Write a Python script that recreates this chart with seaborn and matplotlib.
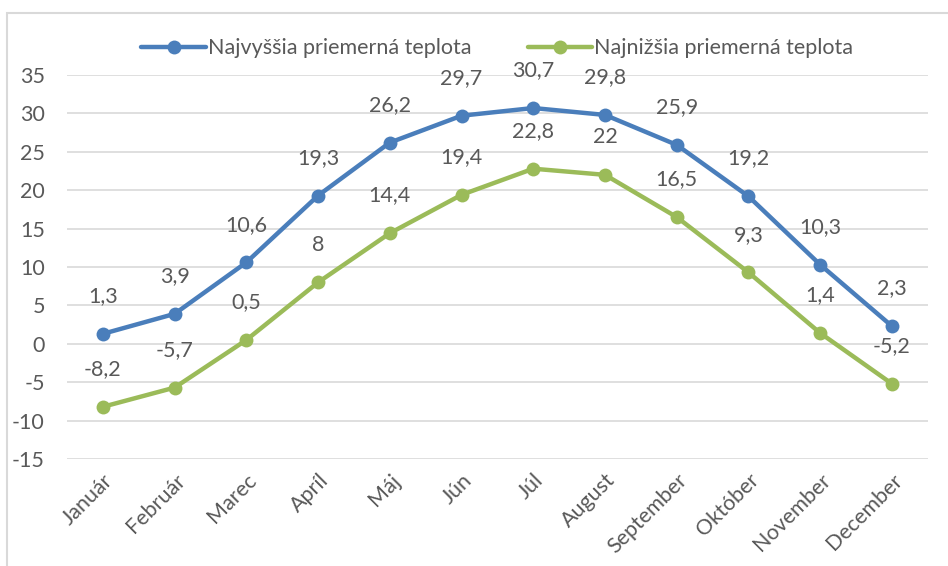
import numpy as np
import pandas as pd
import matplotlib
matplotlib.use('Agg')
import matplotlib.pyplot as plt
import seaborn as sns
from matplotlib.patches import Rectangle
from matplotlib.lines import Line2D

mesiace = ['Január', 'Február', 'Marec', 'Apríl', 'Máj', 'Jún', 'Júl', 'August',
           'September', 'Október', 'November', 'December']
najvyssia = [1.3, 3.9, 10.6, 19.3, 26.2, 29.7, 30.7, 29.8, 25.9, 19.2, 10.3, 2.3]
najnizsia = [-8.2, -5.7, 0.5, 8, 14.4, 19.4, 22.8, 22, 16.5, 9.3, 1.4, -5.2]
serie = ['Najvyššia priemerná teplota', 'Najnižšia priemerná teplota']
farby = ['#4A7EBB', '#9BBB59']

df = pd.DataFrame({
    'x': list(range(12)) * 2,
    'mesiac': mesiace * 2,
    'teplota': najvyssia + najnizsia,
    'seria': [serie[0]] * 12 + [serie[1]] * 12,
})

sns.set_style('white')
plt.rcParams['font.family'] = ['Lato', 'DejaVu Sans']
plt.rcParams['axes.unicode_minus'] = False
text_col = '#595959'
fs = 15.5

fig = plt.figure(figsize=(9.48, 5.66), dpi=100)
ax = fig.add_axes([0.0707, 0.189, 0.908, 0.6785])

sns.lineplot(data=df, x='x', y='teplota', hue='seria', palette=farby,
             marker='o', markersize=10, markeredgewidth=0, linewidth=3.2,
             ax=ax, legend=False)

for vals in (najvyssia, najnizsia):
    for i, v in enumerate(vals):
        lab = ('%g' % v).replace('.', ',')
        ax.annotate(lab, (i, v), xytext=(0, 20), textcoords='offset points',
                    ha='center', va='bottom', fontsize=fs, color=text_col)

ax.set_xlim(-0.5, 11.5)
ax.set_ylim(-15, 35)
ax.set_yticks(range(-15, 36, 5))
ax.set_xticks(range(12))
ax.set_xticklabels(mesiace, rotation=45, ha='right', rotation_mode='anchor')
ax.tick_params(axis='both', length=0, labelsize=fs, labelcolor=text_col)
ax.tick_params(axis='y', pad=16)
ax.tick_params(axis='x', pad=8)
ax.set_xlabel('')
ax.set_ylabel('')
ax.grid(axis='y', color='#D9D9D9', linewidth=1.2)
ax.set_axisbelow(True)
for s in ax.spines.values():
    s.set_visible(False)

handles = [Line2D([], [], color=c, marker='o', markersize=10, markeredgewidth=0,
                  linewidth=3.2) for c in farby]
ax.legend(handles, serie, loc='center', bbox_to_anchor=(0.5, 1.07), ncol=2,
          frameon=False, fontsize=fs, labelcolor=text_col, handlelength=3.0,
          handletextpad=0.1, columnspacing=2.6)

fig.patches.append(Rectangle((7 / 948, -0.1), 1.0, 1 - 13 / 566 + 0.1,
                             transform=fig.transFigure, fill=False,
                             edgecolor='#D9D9D9', linewidth=1.5))

fig.savefig('out.png', dpi=100)
